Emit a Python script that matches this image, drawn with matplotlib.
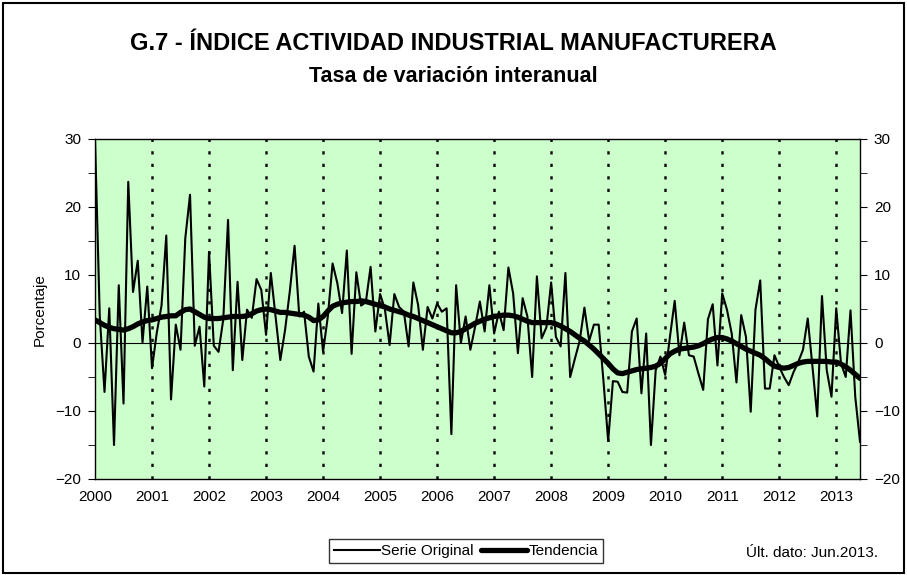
import numpy as np
import matplotlib
matplotlib.use("Agg")
import matplotlib.pyplot as plt
from matplotlib.patches import Rectangle

plt.rcParams['font.family'] = ['Liberation Sans', 'DejaVu Sans']

# monthly data, Jan 2000 .. Jun 2013
years = list(range(2000, 2014))

serie_original = [
    30.0, 4.0, -7.2, 5.1, -15.0, 8.5, -8.9, 23.7, 7.5, 12.1, 0.1, 8.3,
    -3.7, 1.5, 5.5, 15.8, -8.3, 2.7, -1.0, 15.4, 21.8, -0.4, 2.4, -6.4,
    13.4, -0.4, -1.3, 3.5, 18.1, -4.0, 9.0, -2.5, 4.9, 3.7, 9.4, 7.8,
    1.2, 10.3, 3.9, -2.5, 1.9, 7.6, 14.3, 3.9, 4.6, -2.0, -4.2, 5.8,
    -1.3, 3.9, 11.7, 8.8, 4.4, 13.6, -1.6, 10.4, 5.5, 6.0, 11.2, 1.7,
    7.2, 5.0, -0.3, 7.2, 5.3, 4.6, -0.5, 8.9, 5.6, -1.0, 5.3, 3.6,
    5.8, 4.6, 5.1, -13.4, 8.5, 0.0, 3.9, -1.0, 2.4, 6.1, 1.7, 8.5,
    1.4, 4.6, 1.9, 11.1, 7.3, -1.5, 6.6, 3.9, -5.0, 9.8, 0.7, 2.3,
    8.9, 0.9, -0.5, 10.3, -5.0, -2.3, 0.3, 5.2, 0.3, 2.7, 2.7, -5.5,
    -14.4, -5.6, -5.7, -7.2, -7.3, 1.7, 3.6, -7.4, 1.4, -15.0, -4.0, -2.0,
    -4.7, 0.9, 6.2, -1.8, 3.0, -1.8, -2.0, -4.5, -6.9, 3.5, 5.7, -3.3,
    7.3, 4.9, 1.4, -5.8, 4.1, 0.9, -10.1, 4.9, 9.2, -6.7, -6.7, -1.8,
    -3.5, -5.0, -6.2, -4.3, -2.8, -1.0, 3.6, -3.5, -10.8, 6.9, -4.0, -7.9,
    5.1, -3.0, -5.0, 4.8, -7.9, -14.5,
]

tendencia = [
    3.4, 3.0, 2.6, 2.3, 2.1, 2.0, 1.9, 2.1, 2.4, 2.8, 3.1, 3.3,
    3.4, 3.6, 3.8, 3.9, 4.0, 4.0, 4.5, 4.9, 5.0, 4.6, 4.2, 3.8,
    3.6, 3.6, 3.6, 3.7, 3.8, 3.9, 3.9, 3.9, 4.0, 4.3, 4.7, 4.9,
    5.0, 4.9, 4.7, 4.5, 4.5, 4.4, 4.3, 4.2, 4.1, 3.8, 3.3, 3.4,
    3.9, 4.7, 5.4, 5.7, 5.9, 6.0, 6.1, 6.1, 6.2, 6.1, 5.9, 5.7,
    5.5, 5.3, 5.0, 4.8, 4.6, 4.4, 4.1, 3.9, 3.6, 3.3, 3.0, 2.7,
    2.4, 2.1, 1.8, 1.5, 1.5, 1.7, 2.1, 2.5, 2.9, 3.2, 3.5, 3.7,
    3.9, 4.0, 4.1, 4.1, 4.0, 3.8, 3.5, 3.2, 3.0, 3.0, 3.0, 3.0,
    3.0, 2.8, 2.5, 2.1, 1.7, 1.2, 0.7, 0.3, -0.3, -0.9, -1.6, -2.3,
    -3.0, -3.8, -4.4, -4.5, -4.3, -4.1, -3.9, -3.8, -3.7, -3.6, -3.4, -3.0,
    -2.3, -1.6, -1.2, -0.9, -0.8, -0.7, -0.6, -0.4, -0.1, 0.3, 0.6, 0.8,
    0.8, 0.6, 0.3, -0.1, -0.5, -0.9, -1.2, -1.5, -1.8, -2.3, -2.9, -3.4,
    -3.6, -3.7, -3.6, -3.3, -3.0, -2.8, -2.7, -2.7, -2.7, -2.7, -2.7, -2.8,
    -2.8, -3.1, -3.5, -4.0, -4.6, -5.2,
]

W, H = 907, 575
fig = plt.figure(figsize=(W / 100, H / 100), dpi=100)

# outer frame
fig.patches.append(Rectangle((3 / W, 2 / H), (904 - 3) / W, (572 - 2) / H,
                             transform=fig.transFigure, fill=False,
                             edgecolor='black', linewidth=1.5))

ax = fig.add_axes([95 / W, 1 - 479 / H, (860 - 95) / W, 340 / H])
ax.set_facecolor('#CCFFCC')

x = np.arange(len(serie_original))
ax.plot(x, serie_original, color='black', linewidth=1.5, label='Serie Original')
ax.plot(x, tendencia, color='black', linewidth=3.8, label='Tendencia',
        solid_capstyle='round')

# year separators (dotted, Excel style)
for k in range(1, len(years)):
    ax.axvline(12 * k, color='#111111', linewidth=1.8,
               linestyle=(0, (1.3, 3.7)), zorder=1)
ax.axhline(0, color='black', linewidth=0.8, zorder=1)

ax.set_xlim(0, len(serie_original) - 1)
ax.set_ylim(-20, 30)
ax.set_xticks([12 * k for k in range(len(years))])
ax.set_xticklabels([str(y) for y in years])
ax.set_yticks(range(-20, 31, 10))
ax.set_yticks(range(-20, 31, 5), minor=True)
ax.tick_params(axis='x', length=0, pad=8, labelsize=11)
ax.tick_params(axis='y', which='both', direction='out', length=5,
               left=True, right=True, labelleft=True, labelright=True,
               labelsize=11, pad=5)
for s in ax.spines.values():
    s.set_color('black')
    s.set_linewidth(1.0)

fig.text(40 / W, 1 - 310 / H, 'Porcentaje', rotation=90, fontsize=11,
         ha='center', va='center')

fig.text(0.5, 1 - 50 / H, 'G.7 - ÍNDICE ACTIVIDAD INDUSTRIAL MANUFACTURERA',
         fontsize=17, fontweight='bold', ha='center', va='baseline')
fig.text(0.5, 1 - 82 / H, 'Tasa de variación interanual',
         fontsize=15.5, fontweight='bold', ha='center', va='baseline')

leg = fig.legend(loc='center', bbox_to_anchor=(466 / W, 1 - 551 / H), ncol=2,
                 fontsize=11, frameon=True, fancybox=False,
                 edgecolor='black', handlelength=3.0, handletextpad=0.1,
                 columnspacing=0.5, borderpad=0.3)
leg.get_frame().set_linewidth(1.0)

fig.text(878 / W, 1 - 553 / H, 'Últ. dato: Jun.2013.', fontsize=11,
         ha='right', va='center')

fig.savefig('out.png', dpi=100)
